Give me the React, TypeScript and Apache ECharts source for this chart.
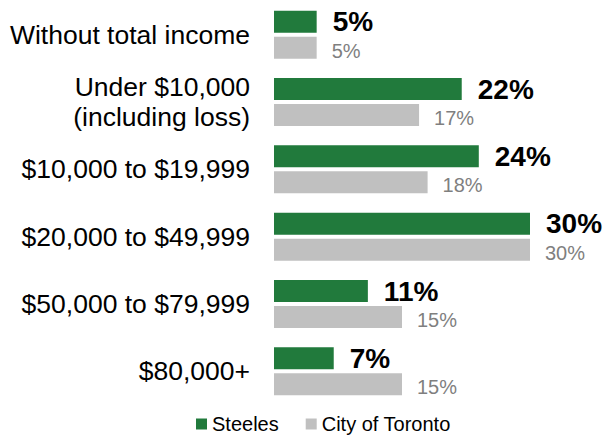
import React, { useEffect, useRef } from "react";
import * as echarts from "echarts";

const categories = [
  "Without total income",
  "Under $10,000\n(including loss)",
  "$10,000 to $19,999",
  "$20,000 to $49,999",
  "$50,000 to $79,999",
  "$80,000+",
];
const steeles = [5, 22, 24, 30, 11, 7];
const toronto = [5, 17, 18, 30, 15, 15];
const seriesNames = ["Steeles", "City of Toronto"];

export default function App() {
  const ref = useRef<HTMLDivElement>(null);
  useEffect(() => {
    if (!ref.current) return;
    const chart = echarts.init(ref.current, null, { renderer: "svg" });
    const font = "'Liberation Sans', Arial, sans-serif";
    chart.setOption({
      animation: false,
      textStyle: { fontFamily: font },
      grid: { left: 274, right: 75, top: 1, bottom: 31, containLabel: false },
      xAxis: {
        type: "value",
        min: 0,
        max: 30,
        show: false,
      },
      yAxis: {
        type: "category",
        data: categories,
        inverse: true,
        axisLine: { show: false },
        axisTick: { show: false },
        axisLabel: {
          fontSize: 26.5,
          color: "#000",
          fontFamily: font,
          margin: 24,
          lineHeight: 30,
          align: "right",
        },
      },
      legend: {
        data: seriesNames,
        left: 196,
        top: 414,
        padding: 0,
        itemWidth: 11,
        itemHeight: 11,
        itemGap: 27,
        icon: "rect",
        textStyle: { fontSize: 20, color: "#000", fontFamily: font, padding: [0, 0, 0, 0] },
      },
      series: [
        {
          name: seriesNames[0],
          type: "bar",
          data: steeles,
          barWidth: 22,
          barGap: "18%",
          itemStyle: { color: "#217a3c" },
          label: {
            show: true,
            position: "right",
            distance: 16,
            formatter: "{c}%",
            fontSize: 28,
            fontWeight: "bold",
            color: "#000",
            fontFamily: font,
            offset: [0, 0],
          },
        },
        {
          name: seriesNames[1],
          type: "bar",
          data: toronto,
          barWidth: 22,
          barGap: "18%",
          itemStyle: { color: "#c0c0c0" },
          label: {
            show: true,
            position: "right",
            distance: 15,
            formatter: "{c}%",
            fontSize: 20,
            color: "#7f7f7f",
            fontFamily: font,
            offset: [0, 3],
          },
        },
      ],
    });
    return () => chart.dispose();
  }, []);
  return (
    <div
      ref={ref}
      style={{ position: "absolute", left: 0, top: 0, width: 605, height: 436 }}
    />
  );
}
